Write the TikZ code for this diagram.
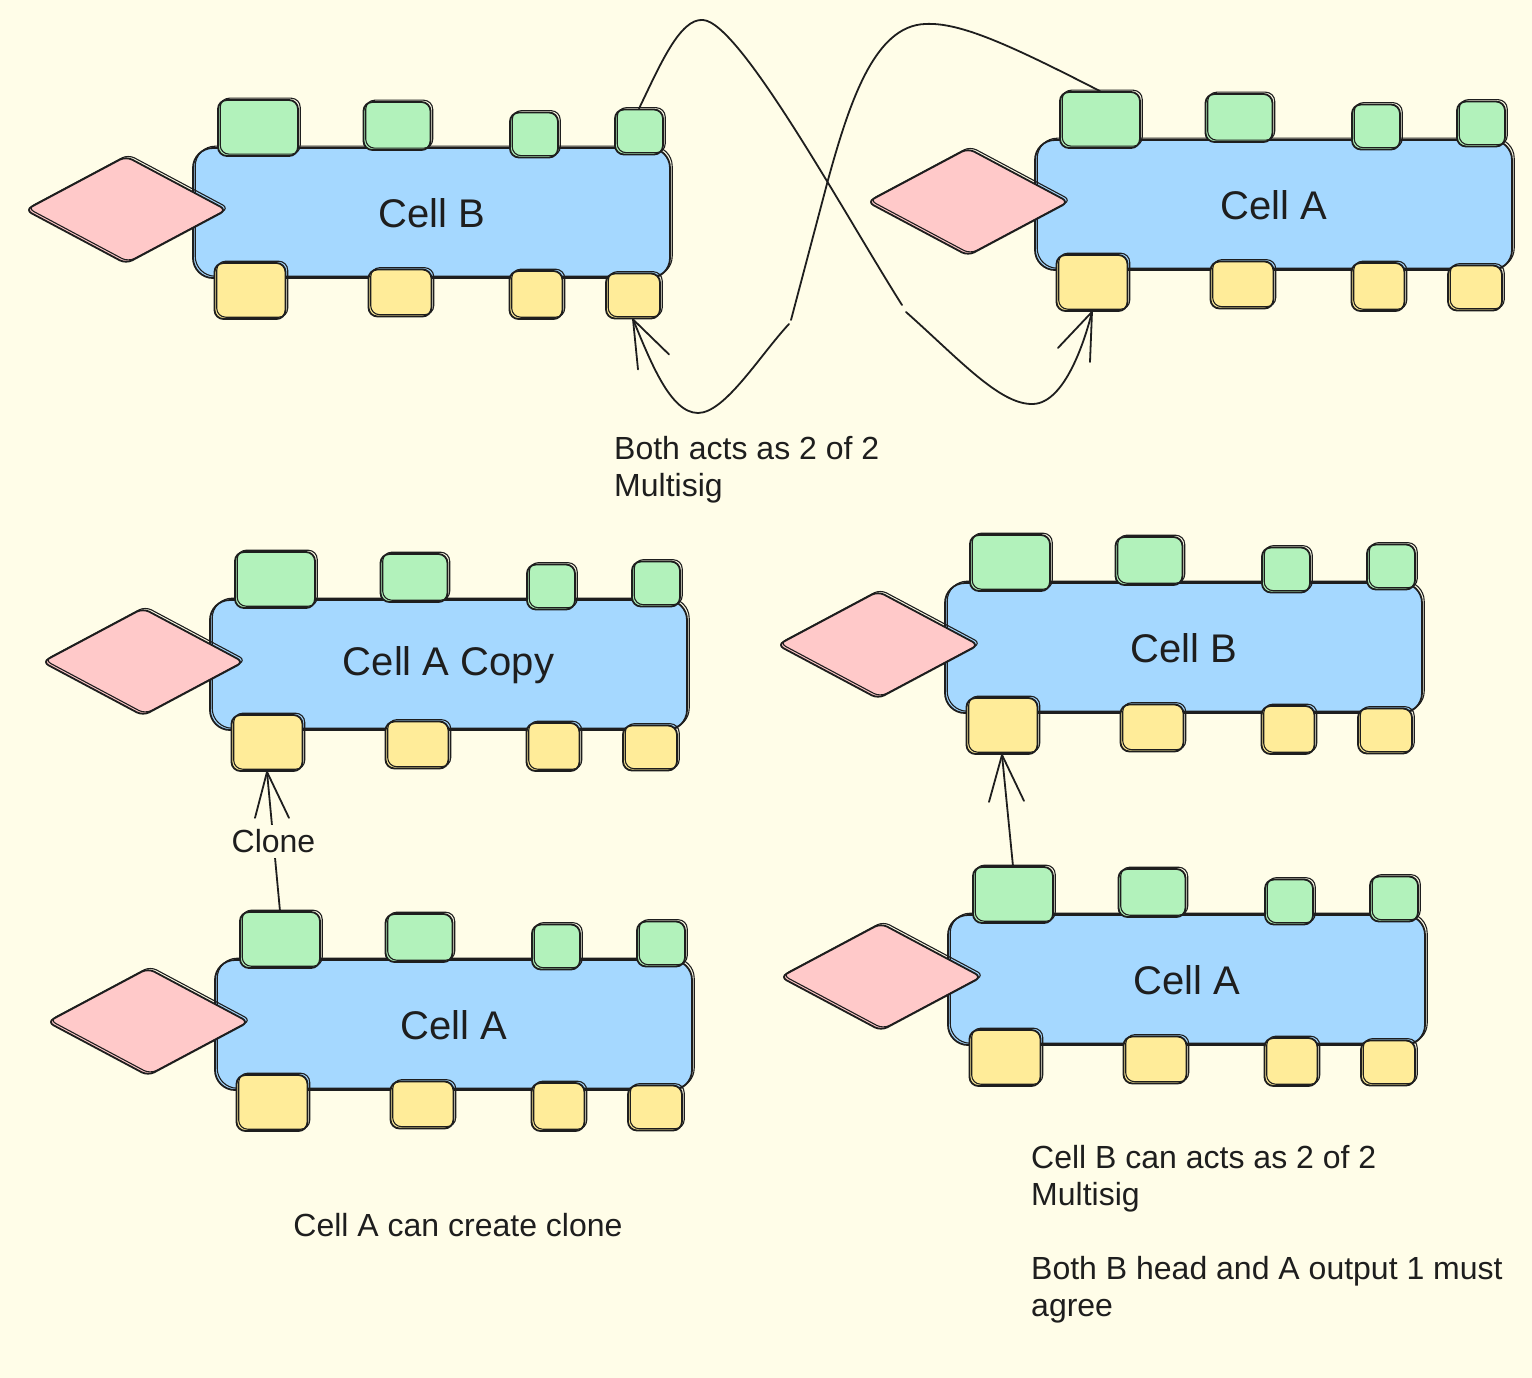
\documentclass[tikz,border=0pt]{standalone}
\usepackage{fontspec}
\setmainfont{Liberation Sans}
\usetikzlibrary{shapes.geometric}
\definecolor{bgc}{HTML}{FFFDE8}
\definecolor{ink}{HTML}{1E1E1E}
\definecolor{cblue}{HTML}{A5D8FF}
\definecolor{cgreen}{HTML}{B2F2BB}
\definecolor{cyellow}{HTML}{FFEC99}
\definecolor{cpink}{HTML}{FFC9C9}
\tikzset{
 sk/.style={draw=ink, line width=1.8, postaction={draw=ink, line width=1.1, transform canvas={shift={(2.2,-1.8)}}}},
 cellbody/.style={sk, fill=cblue, rounded corners=20, minimum width=477, minimum height=130, inner sep=0, text=ink, font=\fontsize{40}{48}\selectfont},
 headdia/.style={sk, fill=cpink, diamond, rounded corners=7, minimum width=202, minimum height=108, inner sep=0},
 gbox/.style={sk, fill=cgreen, rounded corners=9, inner sep=0},
 ybox/.style={sk, fill=cyellow, rounded corners=9, inner sep=0},
 note/.style={text=ink, font=\fontsize{32}{37}\selectfont, inner sep=0, align=left},
 link/.style={draw=ink, line width=1.8, line cap=round},
}
\newcommand\cellgrp[4]{%
\begin{scope}[shift={(#2,#3)}]
\node[cellbody] (#1body) at (238.5,65) {#4};
\node[headdia] (#1head) at (-67,62) {};
\node[gbox, minimum width=80, minimum height=56] (#1g1) at (65,-20) {};
\node[gbox, minimum width=67, minimum height=48] (#1g2) at (204,-22) {};
\node[gbox, minimum width=48, minimum height=45] (#1g3) at (341,-13) {};
\node[gbox, minimum width=48, minimum height=45] (#1g4) at (446,-16) {};
\node[ybox, minimum width=71, minimum height=56] (#1y1) at (57,143) {};
\node[ybox, minimum width=63, minimum height=47] (#1y2) at (207,145) {};
\node[ybox, minimum width=53, minimum height=48] (#1y3) at (343,147) {};
\node[ybox, minimum width=54, minimum height=45] (#1y4) at (440,148) {};
\end{scope}}
\begin{document}
\begin{tikzpicture}[x=1pt,y=-1pt]
\useasboundingbox (0,0) rectangle (1532,1378);
\fill[bgc] (0,0) rectangle (1532,1378);

\cellgrp{Btl}{193}{148}{Cell B}
\cellgrp{Atr}{1035}{140}{Cell A}
\cellgrp{Acp}{210}{600}{Cell A Copy}
\cellgrp{Abl}{215}{960}{Cell A}
\cellgrp{Bbr}{945}{583}{Cell B}
\cellgrp{Abr}{948}{915}{Cell A}

% crossing links at the top
\coordinate (k1) at (902,305);
\coordinate (k2) at (906,312);
\coordinate (k3) at (791,320);
\coordinate (k4) at (789,324);
\draw[link] (Btlg4.north) .. controls (660,65) and (680,18) .. (703,20) .. controls (740,22) and (845,215) .. (k1);
\draw[link] (k2) .. controls (960,360) and (1000,405) .. (1033,404) .. controls (1065,403) and (1085,340) .. (Atry1.south);
\draw[link] (Atry1.south) -- ++(-34,36);
\draw[link] (Atry1.south) -- ++(-2,50);

\draw[link] (Atrg1.north) .. controls (1010,45) and (960,22) .. (925,24) .. controls (875,26) and (850,100) .. (828,180) -- (k3);
\draw[link] (k4) .. controls (760,355) and (725,413) .. (698,413) .. controls (670,413) and (650,360) .. (Btly4.south);
\draw[link] (Btly4.south) -- ++(5,50);
\draw[link] (Btly4.south) -- ++(36,35);

% clone arrow
\draw[link] (Ablg1.north) -- node[fill=bgc, inner sep=5, text=ink, font=\fontsize{32}{37}\selectfont] (clonelbl) {Clone} (Acpy1.south);
\draw[link] (Acpy1.south) -- ++(-12,46);
\draw[link] (Acpy1.south) -- ++(22,46);

% multisig arrow
\draw[link] (Abrg1.north) -- (Bbry1.south);
\draw[link] (Bbry1.south) -- ++(-13,47);
\draw[link] (Bbry1.south) -- ++(22,46);

% notes
\node[note, anchor=north west] (t1) at (614,436) {Both acts as 2 of 2\\Multisig};
\node[note] (t2) at (458,1225) {Cell A can create clone};
\node[note, anchor=north west] (t3) at (1031,1145) {Cell B can acts as 2 of 2\\Multisig\\[37pt]Both B head and A output 1 must\\agree};
\end{tikzpicture}
\end{document}
